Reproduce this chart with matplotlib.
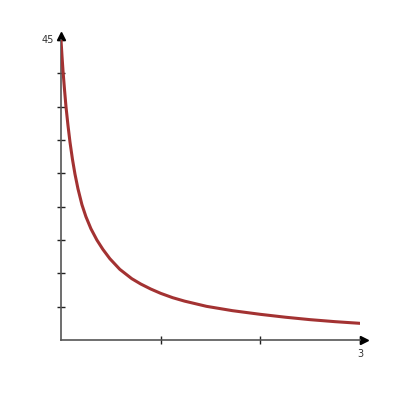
import matplotlib.pyplot as plt

# points
x_vals = [0.0, 0.01, 0.02, 0.035, 0.05, 0.07, 0.09, 0.115, 0.14, 0.17,
          0.21, 0.25, 0.3, 0.36, 0.42, 0.49, 0.59, 0.71, 0.8, 0.9, 1.0,
          1.12, 1.24, 1.46, 1.72, 2.0, 2.25, 2.5, 2.75, 3.0]
y_vals = [45.0, 42.6, 40.4, 37.6, 35.0, 32.2, 29.7, 27.1, 24.9, 22.7,
          20.3, 18.5, 16.7, 15.0, 13.6, 12.2, 10.6, 9.2, 8.4, 7.65, 7.0,
          6.35, 5.83, 5.05, 4.4, 3.85, 3.42, 3.05, 2.75, 2.5]
x_ticks = [1, 2, 3]
y_ticks = [5, 10, 15, 20, 25, 30, 35, 40, 45]

fig = plt.figure(figsize=(4, 4), dpi=100)
ax = fig.add_axes([0.1525, 0.15, 0.7475, 0.75])

ax.plot(x_vals, y_vals, color='#a33232', lw=2.2, solid_capstyle='round',
        solid_joinstyle='round', zorder=3)

ax.set_xlim(0, 3)
ax.set_ylim(0, 45)
for s in ['top', 'right']:
    ax.spines[s].set_visible(False)
for s in ['left', 'bottom']:
    ax.spines[s].set_color('#555555')
    ax.spines[s].set_linewidth(1.2)

ax.set_xticks(x_ticks)
ax.set_yticks(y_ticks)
ax.tick_params(direction='inout', length=6, width=1, color='#222222')
ax.set_xticklabels([])
ax.set_yticklabels([])

# arrow heads
ax.plot([0], [1.015], marker='^', color='black', ms=6, transform=ax.transAxes, clip_on=False)
ax.plot([1.015], [0], marker='>', color='black', ms=6, transform=ax.transAxes, clip_on=False)

ax.text(-0.025, 1.0, '45', transform=ax.transAxes, ha='right', va='center',
        fontsize=7, color='#333333')
ax.text(1.0, -0.03, '3', transform=ax.transAxes, ha='center', va='top',
        fontsize=7, color='#333333')

fig.savefig('out.png', dpi=100)
